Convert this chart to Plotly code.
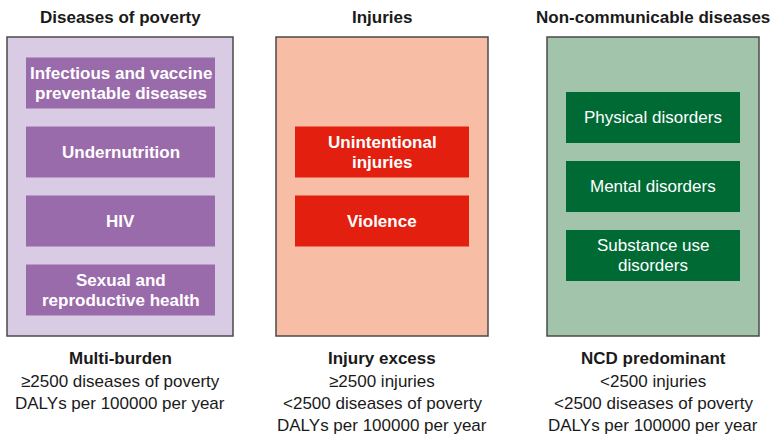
import plotly.graph_objects as go

# ---- data ----
panel_titles = ["Diseases of poverty", "Injuries", "Non-communicable diseases"]
panel_items = [
    ["Infectious and vaccine<br>preventable diseases", "Undernutrition", "HIV", "Sexual and<br>reproductive health"],
    ["Unintentional<br>injuries", "Violence"],
    ["Physical disorders", "Mental disorders", "Substance use<br>disorders"],
]
panel_labels = ["Multi-burden", "Injury excess", "NCD predominant"]
panel_criteria = [
    ["≥2500 diseases of poverty", "DALYs per 100000 per year"],
    ["≥2500 injuries", "<2500 diseases of poverty", "DALYs per 100000 per year"],
    ["<2500 injuries", "<2500 diseases of poverty", "DALYs per 100000 per year"],
]

# ---- style ----
bg_colors = ["#d9cbe4", "#f7bea5", "#a2c4ab"]
box_colors = ["#9a6bab", "#e3200f", "#006a35"]
box_bold = [True, True, False]
panel_x = [(7, 233), (276, 488), (547, 759)]
inner_x = [(26, 215), (295, 469), (566, 740)]
panel_y = (37, 336)
box_h = 51
box_gap = 69
FS = 17
FONT = "Liberation Sans, Arial, Helvetica, sans-serif"

fig = go.Figure()
shapes = []
annotations = []


def add_text(x, y, text, bold=False, color="#1a1a1a", size=FS):
    annotations.append(dict(x=x, y=y, xref="x", yref="y",
                            text="<b>%s</b>" % text if bold else text,
                            showarrow=False, font=dict(family=FONT, size=size, color=color)))


for i in range(3):
    x0, x1 = panel_x[i]
    cx = (x0 + x1) / 2
    shapes.append(dict(type="rect", xref="x", yref="y", x0=x0, x1=x1,
                       y0=panel_y[0], y1=panel_y[1], fillcolor=bg_colors[i],
                       line=dict(color="#4a4a4a", width=1.5), layer="below"))
    add_text(cx, 17, panel_titles[i], bold=True)
    items = panel_items[i]
    n = len(items)
    mid = (panel_y[0] + panel_y[1]) / 2
    total = (n - 1) * box_gap + box_h
    top = mid - total / 2
    ix0, ix1 = inner_x[i]
    for j, it in enumerate(items):
        y0 = top + j * box_gap
        shapes.append(dict(type="rect", xref="x", yref="y", x0=ix0, x1=ix1,
                           y0=y0, y1=y0 + box_h, fillcolor=box_colors[i],
                           line=dict(width=0), layer="below"))
        lines = it.split("<br>")
        yc = y0 + box_h / 2
        for k, ln in enumerate(lines):
            add_text((ix0 + ix1) / 2, yc + (k - (len(lines) - 1) / 2) * 20, ln,
                     bold=box_bold[i], color="white")
    add_text(cx, 358, panel_labels[i], bold=True)
    for k, line in enumerate(panel_criteria[i]):
        add_text(cx, 381 + k * 22, line)

fig.update_layout(
    width=772, height=434,
    margin=dict(l=0, r=0, t=0, b=0, pad=0),
    paper_bgcolor="white", plot_bgcolor="white",
    xaxis=dict(range=[0, 772], visible=False, fixedrange=True),
    yaxis=dict(range=[434, 0], visible=False, fixedrange=True),
    shapes=shapes, annotations=annotations, showlegend=False,
)
fig.write_html(
    "out.html",
    config={"displayModeBar": False, "staticPlot": True},
    post_script="document.body.style.margin='0';document.body.style.overflow='hidden';",
)
